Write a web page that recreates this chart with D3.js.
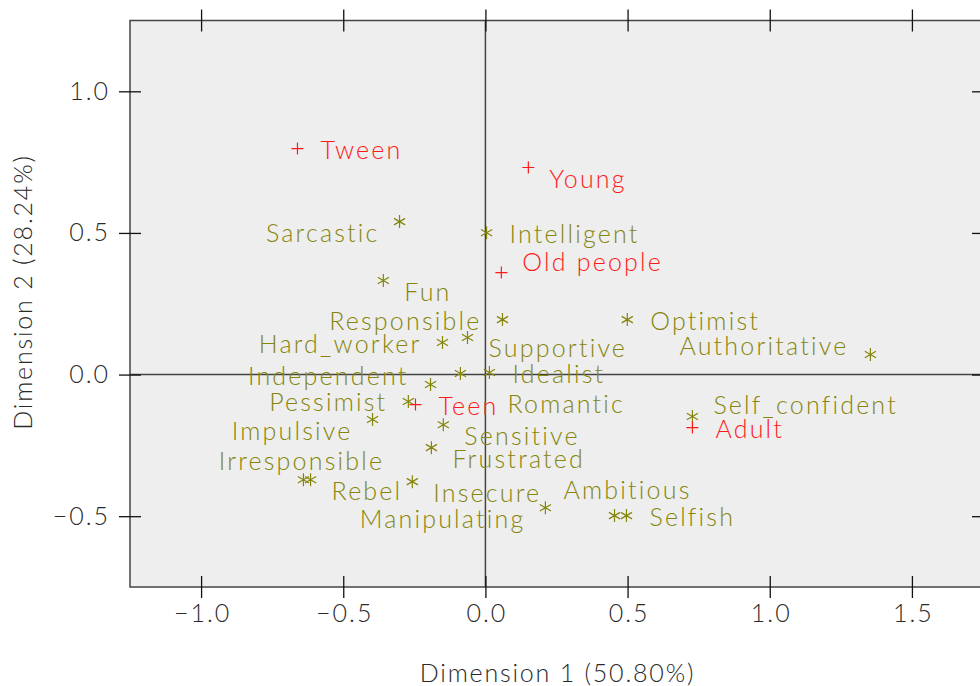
<!DOCTYPE html>
<html>
<head>
<meta charset="utf-8">
<script src="https://cdn.jsdelivr.net/npm/d3@7"></script>
<style>
  body { margin: 0; background: #fff; }
  text { font-family: Lato, "DejaVu Sans", sans-serif; font-weight: 300; }
</style>
</head>
<body>
<svg id="caplot" width="980" height="686"></svg>
<script>
// row points (red +)
const rowLabels = ["Tween", "Young", "Old people", "Teen", "Adult"];
const rowDim1 = [-0.661, 0.151, 0.056, -0.246, 0.728];
const rowDim2 = [0.798, 0.731, 0.360, -0.106, -0.187];
const rowLabelPos = [3, 4, 2, 3, 3];

// column points (olive *)
const colLabels = ["Sarcastic", "Intelligent", "Fun", "Responsible", "Optimist",
  "Hard_worker", "Supportive", "Authoritative", "Independent", "Idealist", "Romantic",
  "Pessimist", "Impulsive", "Sensitive", "Frustrated", "Irresponsible", "Rebel",
  "Insecure", "Manipulating", "Ambitious", "Selfish", "Self_confident"];
const colDim1 = [-0.302, 0.004, -0.359, 0.060, 0.499, -0.151, -0.063, 1.354, -0.193, 0.014, -0.088,
  -0.271, -0.397, -0.148, -0.190, -0.640, -0.615, -0.257, 0.211, 0.454, 0.496, 0.728];
const colDim2 = [0.540, 0.501, 0.332, 0.194, 0.194, 0.113, 0.131, 0.071, -0.035, 0.007, 0.004,
  -0.095, -0.159, -0.177, -0.258, -0.371, -0.371, -0.378, -0.470, -0.498, -0.498, -0.148];
const colLabelPos = [8, 3, 4, 9, 3, 9, 4, 10, 10, 3, 6, 9, 8, 4, 4, 12, 4, 4, 8, 1, 3, 2];

// axes
const xTicks = [-1.0, -0.5, 0.0, 0.5, 1.0, 1.5];
const yTicks = [-0.5, 0.0, 0.5, 1.0];
const xTitle = "Dimension 1 (50.80%)";
const yTitle = "Dimension 2 (28.24%)";

const svg = d3.select("#caplot");
const plot = { left: 130, top: 20.5, right: 983, bottom: 587 };

const x = d3.scaleLinear().domain([-1.25, 1.75]).range([plot.left, plot.right]);
const y = d3.scaleLinear().domain([-0.75, 1.25]).range([plot.bottom, plot.top]);

const RED = "#ff1a1a", OLIVE = "#85850c", INK = "#2a2a2a";
const FS = 25, LS = 2.2;

// panel
svg.append("rect")
  .attr("x", plot.left).attr("y", plot.top)
  .attr("width", plot.right - plot.left).attr("height", plot.bottom - plot.top)
  .attr("fill", "#eeeeee").attr("stroke", "#444").attr("stroke-width", 1.5);

// zero lines
svg.append("line")
  .attr("x1", x(0)).attr("x2", x(0)).attr("y1", plot.top).attr("y2", plot.bottom)
  .attr("stroke", "#444").attr("stroke-width", 1.5);
svg.append("line")
  .attr("x1", plot.left).attr("x2", plot.right).attr("y1", y(0)).attr("y2", y(0))
  .attr("stroke", "#444").attr("stroke-width", 1.5);

// axes, ticks crossing the frame
const fmt = d3.format(".1f");
function styleAxis(g) {
  g.select(".domain").remove();
  g.selectAll(".tick line").attr("stroke", "#111").attr("stroke-width", 1.3);
  g.selectAll(".tick text").attr("fill", INK).attr("font-size", FS).attr("letter-spacing", 2);
}
svg.append("g")
  .attr("transform", `translate(0,${plot.bottom + 11})`)
  .call(d3.axisBottom(x).tickValues(xTicks).tickFormat(fmt).tickSizeInner(22).tickSizeOuter(0))
  .call(styleAxis)
  .call(g => g.selectAll(".tick line").attr("y1", 0).attr("y2", -22))
  .call(g => g.selectAll(".tick text").attr("y", 14).attr("dy", null).attr("dx", 1)
    .attr("dominant-baseline", "central"));
svg.append("g")
  .attr("transform", `translate(0,${plot.top - 11})`)
  .call(d3.axisTop(x).tickValues(xTicks).tickFormat("").tickSizeInner(-22).tickSizeOuter(0))
  .call(styleAxis);
svg.append("g")
  .attr("transform", `translate(${plot.left - 11},0)`)
  .call(d3.axisLeft(y).tickValues(yTicks).tickFormat(fmt).tickSizeInner(-22).tickSizeOuter(0))
  .call(styleAxis)
  .call(g => g.selectAll(".tick text").attr("x", -9));
svg.append("g")
  .attr("transform", `translate(${plot.right + 11},0)`)
  .call(d3.axisRight(y).tickValues(yTicks).tickFormat("").tickSizeInner(-22).tickSizeOuter(0))
  .call(styleAxis);

// axis titles
svg.append("text")
  .attr("x", (plot.left + plot.right) / 2 + 1).attr("y", 672)
  .attr("text-anchor", "middle").attr("dominant-baseline", "central")
  .attr("font-size", FS).attr("letter-spacing", 1.8).attr("fill", INK).text(xTitle);
svg.append("text")
  .attr("transform", "translate(22,292) rotate(-90)")
  .attr("text-anchor", "middle").attr("dominant-baseline", "central")
  .attr("font-size", FS).attr("letter-spacing", 1.8).attr("fill", INK).text(yTitle);

// label placement by clock position (6 = lower right, further out)
const clock = {
  1: [13, -27, "middle"], 2: [21, -12, "start"], 3: [23, 0, "start"], 4: [21, 10, "start"],
  6: [47, 30, "start"], 8: [-20, 10, "end"], 9: [-21, 0, "end"], 10: [-22, -9, "end"],
  12: [-2, -20, "middle"]
};

const plusPath = "M-6,0H6M0,-6V6";
const starPath = "M0,-6.5V6.5M-5.6,-3.25L5.6,3.25M-5.6,3.25L5.6,-3.25";

function drawSet(labels, d1, d2, pos, color, path) {
  const pts = labels.map((name, i) => ({ name, x: d1[i], y: d2[i], pos: pos[i] }));
  const g = svg.append("g");
  g.selectAll("path")
    .data(pts).enter().append("path")
    .attr("d", path)
    .attr("transform", d => `translate(${x(d.x)},${y(d.y)})`)
    .attr("fill", "none").attr("stroke", color).attr("stroke-width", 1.2);
  g.selectAll("text")
    .data(pts).enter().append("text")
    .attr("x", d => x(d.x) + clock[d.pos][0])
    .attr("y", d => y(d.y) + clock[d.pos][1])
    .attr("text-anchor", d => clock[d.pos][2])
    .attr("dominant-baseline", "central")
    .attr("font-size", FS).attr("letter-spacing", LS).attr("fill", color)
    .text(d => d.name);
}

drawSet(colLabels, colDim1, colDim2, colLabelPos, OLIVE, starPath);
drawSet(rowLabels, rowDim1, rowDim2, rowLabelPos, RED, plusPath);
</script>
</body>
</html>
